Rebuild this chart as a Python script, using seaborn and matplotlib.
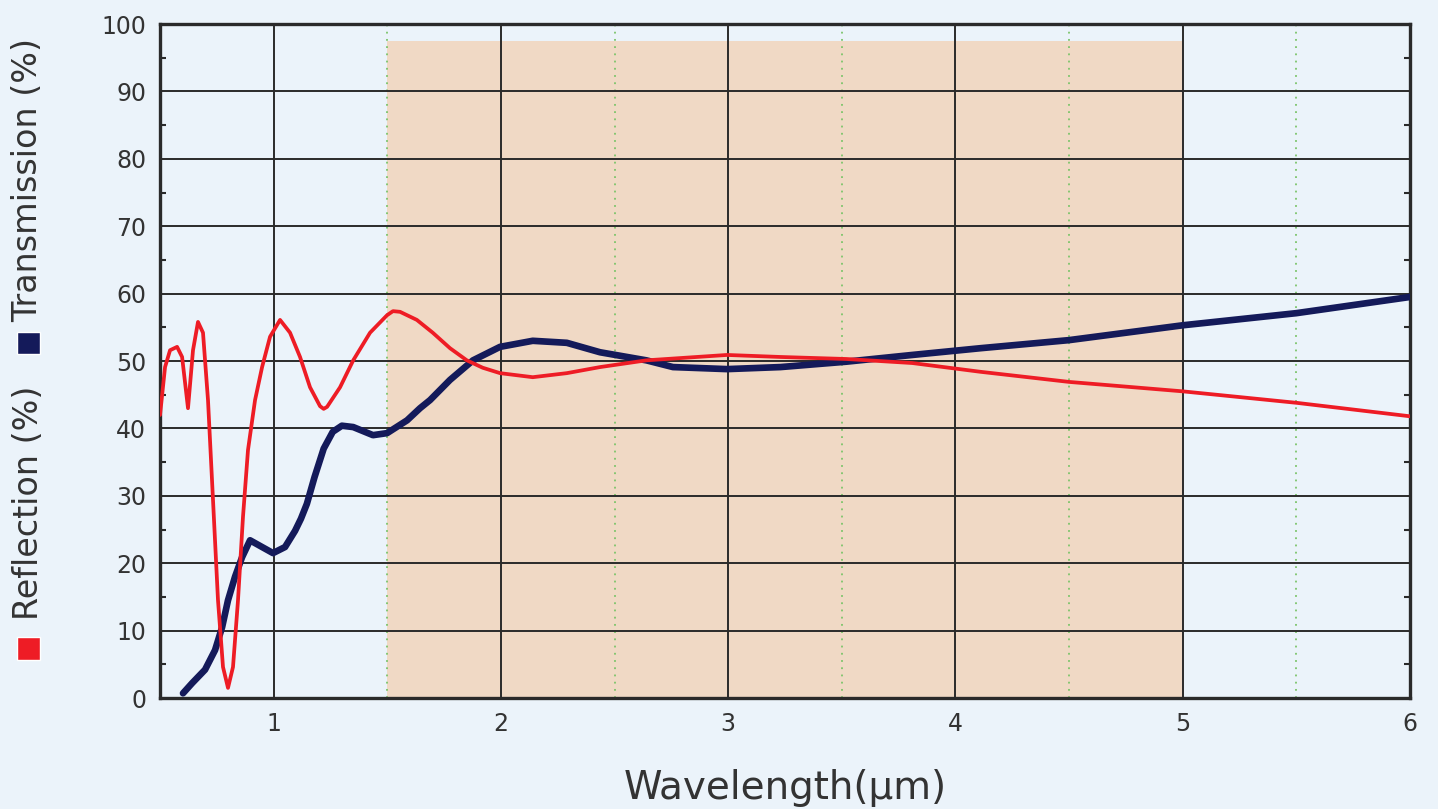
import pandas as pd
import matplotlib.pyplot as plt
import seaborn as sns
from matplotlib.patches import Rectangle
from matplotlib.ticker import MultipleLocator

# wavelength (um) and reflection (%)
refl_x = [0.50, 0.522, 0.544, 0.575, 0.597, 0.623, 0.645, 0.667, 0.689, 0.711, 0.733, 0.755,
          0.777, 0.799, 0.821, 0.843, 0.865, 0.887, 0.918, 0.949, 0.984, 1.028, 1.072, 1.116,
          1.16, 1.204, 1.22, 1.235, 1.292, 1.35, 1.424, 1.499, 1.525, 1.556, 1.63, 1.70, 1.776,
          1.85, 1.92, 1.996, 2.14, 2.29, 2.436, 2.64, 2.995, 3.23, 3.52, 3.81, 4.11, 4.5,
          5.0, 5.5, 6.0]
refl_y = [42.0, 49.1, 51.6, 52.1, 50.6, 43.0, 51.6, 55.8, 54.2, 44.2, 29.4, 14.5,
          4.6, 1.5, 4.6, 14.5, 26.9, 36.8, 44.2, 49.1, 53.6, 56.1, 54.2, 50.6,
          46.1, 43.3, 42.9, 43.2, 46.1, 50.1, 54.2, 56.8, 57.4, 57.3, 56.1, 54.2, 51.9,
          50.1, 49.0, 48.2, 47.6, 48.2, 49.1, 50.1, 50.9, 50.6, 50.3, 49.7, 48.4, 46.9,
          45.5, 43.8, 41.8]

# wavelength (um) and transmission (%)
trans_x = [0.601, 0.641, 0.698, 0.742, 0.773, 0.799, 0.830, 0.861, 0.896, 0.949, 0.997, 1.05,
           1.094, 1.12, 1.146, 1.18, 1.22, 1.26, 1.30, 1.35, 1.437, 1.499, 1.587, 1.644, 1.688,
           1.776, 1.877, 1.996, 2.14, 2.29, 2.436, 2.64, 2.757, 2.995, 3.23, 3.52, 3.81,
           4.11, 4.5, 5.0, 5.5, 6.0]
trans_y = [0.7, 2.2, 4.2, 7.1, 10.5, 14.5, 18.0, 20.9, 23.4, 22.4, 21.5, 22.4,
           24.8, 26.6, 28.8, 32.8, 37.0, 39.5, 40.4, 40.2, 39.0, 39.3, 41.2, 43.0, 44.2,
           47.2, 50.1, 52.1, 53.0, 52.7, 51.3, 50.1, 49.1, 48.8, 49.1, 49.9, 50.9,
           51.9, 53.1, 55.3, 57.1, 59.5]

band = (1.5, 5.0, 97.5)
xticks = [1, 2, 3, 4, 5, 6]
yticks = [0, 10, 20, 30, 40, 50, 60, 70, 80, 90, 100]

bg = '#ebf3fa'
red = '#ee1c25'
navy = '#141a5a'
ink = '#2a2a2a'

sns.set_style('white')
plt.rcParams['font.family'] = ['DejaVu Sans']

fig = plt.figure(figsize=(14.38, 8.09), dpi=100, facecolor=bg)
ax = fig.add_axes([0.1113, 0.1372, 0.8692, 0.8331])
ax.set_facecolor(bg)

ax.add_patch(Rectangle((band[0], 0), band[1] - band[0], band[2], facecolor='#f0d9c5',
                       edgecolor='none', zorder=0))

df_r = pd.DataFrame({'x': refl_x, 'y': refl_y})
df_t = pd.DataFrame({'x': trans_x, 'y': trans_y})
sns.lineplot(data=df_t, x='x', y='y', color=navy, linewidth=4.8, ax=ax, zorder=3,
             solid_capstyle='round', solid_joinstyle='round')
sns.lineplot(data=df_r, x='x', y='y', color=red, linewidth=2.7, ax=ax, zorder=4,
             solid_capstyle='round', solid_joinstyle='round')

ax.set_xlim(0.5, 6)
ax.set_ylim(0, 100)
ax.set_xticks(xticks)
ax.set_yticks(yticks)
ax.xaxis.set_minor_locator(MultipleLocator(0.5))
ax.yaxis.set_minor_locator(MultipleLocator(5))
ax.grid(True, which='major', color=ink, linewidth=1.4, zorder=1)
ax.grid(True, which='minor', axis='x', color='#7cc46a', linewidth=1.3, linestyle=(0, (1, 3)))
ax.set_axisbelow(True)
ax.tick_params(which='major', length=0, labelsize=17, labelcolor='#333333', pad=10)
ax.tick_params(which='minor', axis='y', direction='in', length=4, width=1.5, color=ink,
               left=True, right=True)
ax.tick_params(which='minor', axis='x', length=0)
for s in ax.spines.values():
    s.set_visible(True)
    s.set_color(ink)
    s.set_linewidth(2.4)

ax.set_xlabel('Wavelength(µm)', fontsize=28, color='#333333', labelpad=24)
ax.set_ylabel('')

# composite y label
fig.text(0.0195, 0.378, 'Reflection (%)', rotation=90, fontsize=24, color='#333333',
         ha='center', va='center')
fig.text(0.0195, 0.777, 'Transmission (%)', rotation=90, fontsize=24, color='#333333',
         ha='center', va='center')
fig.patches.append(Rectangle((17 / 1438, 1 - 660 / 809), 23 / 1438, 23 / 809,
                             transform=fig.transFigure, facecolor=red, figure=fig))
fig.patches.append(Rectangle((17 / 1438, 1 - 354 / 809), 23 / 1438, 22 / 809,
                             transform=fig.transFigure, facecolor=navy, figure=fig))

fig.savefig('out.png', dpi=100, facecolor=bg)
